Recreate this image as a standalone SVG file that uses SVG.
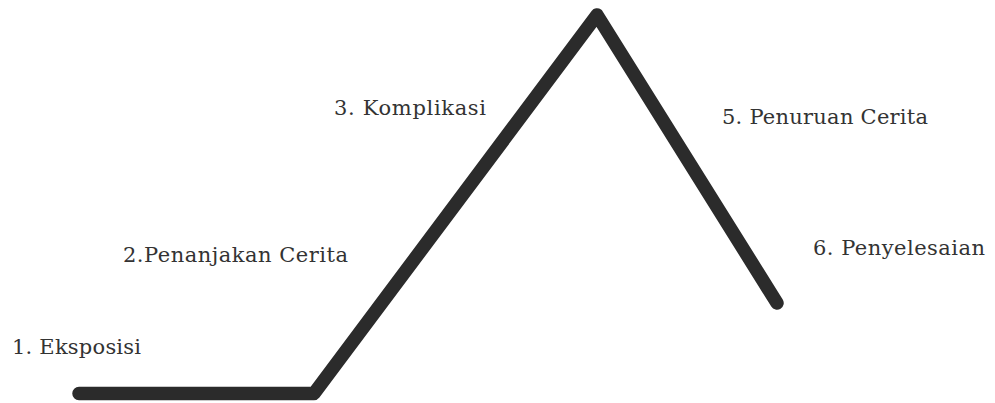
<svg xmlns="http://www.w3.org/2000/svg" width="995" height="403" viewBox="0 0 995 403">
<style>
.lbl{font-family:"DejaVu Serif","Liberation Serif",serif;font-size:21px;fill:#333333;}
.arc{fill:none;stroke:#2b2b2b;stroke-width:13.5;stroke-linecap:round;stroke-linejoin:round;}
</style>
<rect width="995" height="403" fill="#ffffff"/>
<g id="connectors">
<polyline class="arc" points="79,393.5 314,393.5 597,15 777,303"/>
</g>
<g id="n1"><text class="lbl" x="12" y="354" textLength="129">1. Eksposisi</text></g>
<g id="n2"><text class="lbl" x="123" y="262" textLength="225">2.Penanjakan Cerita</text></g>
<g id="n3"><text class="lbl" x="334" y="115" textLength="152">3. Komplikasi</text></g>
<g id="n5"><text class="lbl" x="722" y="124" textLength="206">5. Penuruan Cerita</text></g>
<g id="n6"><text class="lbl" x="813" y="255" textLength="172">6. Penyelesaian</text></g>
</svg>
